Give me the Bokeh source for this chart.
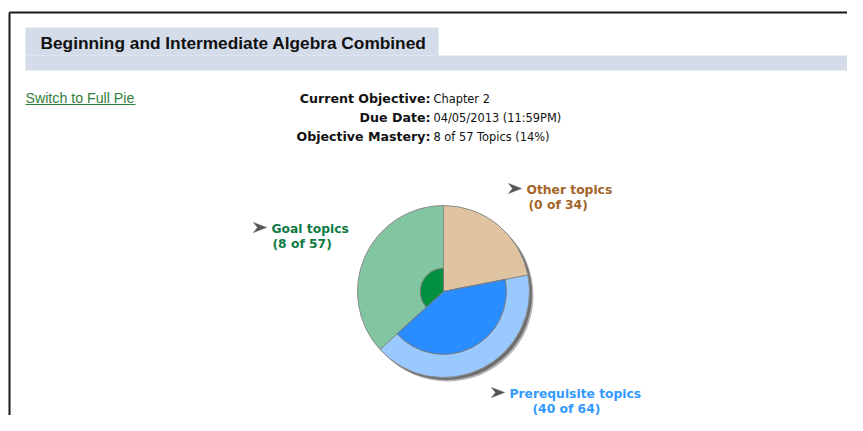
import math
from bokeh.plotting import figure
from bokeh.models import Range1d, ColumnDataSource
from bokeh.core.properties import value
from bokeh.embed import file_html
from bokeh.resources import INLINE

# ---- data ----
course_title = "Beginning and Intermediate Algebra Combined"
link_text = "Switch to Full Pie"
info_keys = ["Current Objective:", "Due Date:", "Objective Mastery:"]
objective = "Chapter 2"
due_date = "04/05/2013 (11:59PM)"
topics = ["Other topics", "Prerequisite topics", "Goal topics"]
totals = [34, 64, 57]
mastered = [0, 40, 8]
outer_colors = ["#e0c3a1", "#99c9ff", "#81c6a1"]
inner_colors = ["#c89a6a", "#2a8dff", "#00903f"]
label_colors = ["#a4642a", "#3399ff", "#0f7a44"]

goal_idx = topics.index("Goal topics")
pct = round(100 * mastered[goal_idx] / totals[goal_idx])
info_vals = [objective, due_date,
             f"{mastered[goal_idx]} of {totals[goal_idx]} Topics ({pct}%)"]

W, H = 847, 415
PAGE_H = 431


def Y(py):
    return PAGE_H - py


p = figure(width=W, height=H, x_range=Range1d(0, W), y_range=Range1d(PAGE_H - H, PAGE_H),
           output_backend="svg", toolbar_location=None, min_border=0,
           x_axis_location=None, y_axis_location=None, outline_line_color=None)
p.xgrid.visible = False
p.ygrid.visible = False
p.background_fill_color = "white"
p.border_fill_color = "white"

# page frame
p.segment(x0=[9], y0=[Y(12)], x1=[870], y1=[Y(12)], line_color="#1a1a1a", line_width=2)
p.segment(x0=[9], y0=[Y(12)], x1=[9], y1=[Y(440)], line_color="#1a1a1a", line_width=2)

# header band + tab
band = "#d4dcea"
p.quad(left=[25], right=[438], top=[Y(27)], bottom=[Y(55)], fill_color=band, line_color=None)
p.quad(left=[25], right=[870], top=[Y(55)], bottom=[Y(70)], fill_color=band, line_color=None)
p.text(x=[40], y=[Y(42)], text=[course_title], text_font=value("Liberation Sans"),
       text_font_style="bold", text_font_size="17.3px", text_color="#111111",
       text_baseline="middle", text_align="left")

# link
p.text(x=[25], y=[Y(97)], text=[link_text], text_font=value("Liberation Sans"),
       text_font_size="14.2px", text_color="#2f7f3c", text_baseline="middle", text_align="left")
p.segment(x0=[25], y0=[Y(104)], x1=[135], y1=[Y(104)], line_color="#2f7f3c", line_width=1)

# info block
info_y = [Y(98), Y(117), Y(136)]
p.text(x=[430] * 3, y=info_y, text=info_keys, text_font=value("DejaVu Sans"),
       text_font_style="bold", text_font_size="12.6px", text_color="#111111",
       text_baseline="middle", text_align="right")
p.text(x=[433] * 3, y=info_y, text=info_vals, text_font=value("DejaVu Sans"),
       text_font_size="11.4px", text_color="#111111",
       text_baseline="middle", text_align="left")

# ---- pie ----
cx, cy, R = 443, Y(291), 86
total = sum(totals)
starts, ends = [], []
a = 90.0
for t in totals:
    starts.append(math.radians(a))
    a -= 360.0 * t / total
    ends.append(math.radians(a))
inner_r = [R * (m / t) ** (2.0 / 3.0) for m, t in zip(mastered, totals)]

# shadow
p.circle(x=[cx + 4], y=[cy - 4], radius=R, fill_color="#b5b5b5", line_color=None)
p.circle(x=[cx + 2.5], y=[cy - 2.5], radius=R, fill_color="#6e6e6e", line_color=None)

src = ColumnDataSource(dict(start=starts, end=ends, oc=outer_colors, ic=inner_colors,
                            ir=inner_r))
p.wedge(x=cx, y=cy, radius=R, start_angle="start", end_angle="end",
        direction="clock", fill_color="oc", line_color="#8c8c8c", line_width=1, source=src)
p.wedge(x=cx, y=cy, radius="ir", start_angle="start", end_angle="end",
        direction="clock", fill_color="ic", line_color="#7a7a7a", line_width=1, source=src)

# labels
label_pos = {"Other topics": (508, 188, 526, 528),
             "Prerequisite topics": (491, 392, 509, 532),
             "Goal topics": (253, 227, 271, 272)}
for name, t, m, col in zip(topics, totals, mastered, label_colors):
    ax, ay, tx, tx2 = label_pos[name]
    # arrow marker
    xs = [ax, ax + 13, ax, ax + 4]
    ys = [Y(ay - 5), Y(ay), Y(ay + 5), Y(ay)]
    p.patch(x=xs, y=ys, fill_color="#555555", line_color="#555555", line_width=0.5)
    p.text(x=[tx], y=[Y(ay + 1)], text=[name], text_font=value("DejaVu Sans"),
           text_font_style="bold", text_font_size="12.3px", text_color=col,
           text_baseline="middle", text_align="left")
    p.text(x=[tx2], y=[Y(ay + 16)], text=[f"({m} of {t})"], text_font=value("DejaVu Sans"),
           text_font_style="bold", text_font_size="12.3px", text_color=col,
           text_baseline="middle", text_align="left")

open("out.html", "w").write(file_html(p, INLINE))
